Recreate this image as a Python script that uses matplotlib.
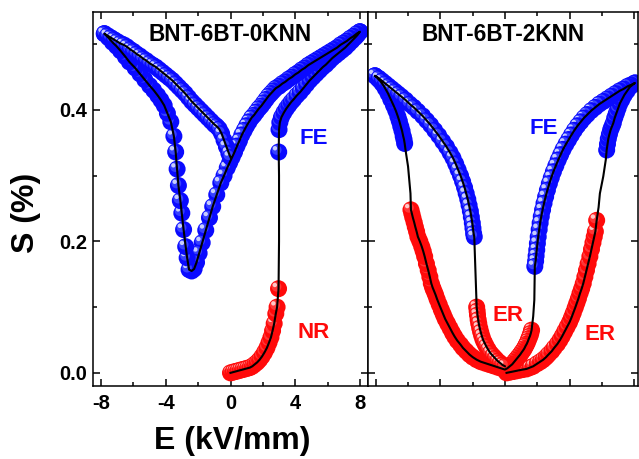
import matplotlib
matplotlib.use('Agg')
import matplotlib.pyplot as plt
from matplotlib.transforms import offset_copy
from matplotlib.ticker import MultipleLocator

plt.rcParams['font.family'] = ['Liberation Sans', 'DejaVu Sans']
plt.rcParams['font.weight'] = 'bold'

left_title = 'BNT-6BT-0KNN'
right_title = 'BNT-6BT-2KNN'
x_label = 'E (kV/mm)'
y_label = 'S (%)'
x_ticks = [-8, -4, 0, 4, 8]
y_ticks = [0.0, 0.2, 0.4]

# ---------------- left panel (0KNN), sweep order ----------------
L_nr_E = [0.00, 0.15, 0.30, 0.45, 0.60, 0.75, 0.90, 1.05, 1.20, 1.35, 1.50, 1.65,
          1.80, 1.95, 2.10, 2.25, 2.38, 2.50, 2.60, 2.70, 2.80, 2.88, 2.97]
L_nr_S = [0.000, 0.001, 0.002, 0.003, 0.004, 0.005, 0.006, 0.007, 0.008, 0.010, 0.013, 0.016,
          0.020, 0.025, 0.031, 0.038, 0.046, 0.054, 0.064, 0.075, 0.090, 0.100, 0.128]
L_jump_E = [2.97, 3.00, 3.00, 2.98]
L_jump_S = [0.128, 0.200, 0.300, 0.336]
L_fe1_E = [2.98, 3.00, 3.05, 3.15, 3.30, 3.45, 3.60, 3.75, 3.90, 4.10, 4.30, 4.50, 4.70, 4.90,
           5.10, 5.30, 5.50, 5.70, 5.90, 6.10, 6.30, 6.50, 6.70, 6.90, 7.10, 7.30, 7.50, 7.70,
           7.85, 8.00]
L_fe1_S = [0.336, 0.370, 0.381, 0.389, 0.396, 0.402, 0.407, 0.412, 0.416, 0.422, 0.427, 0.433,
           0.439, 0.445, 0.450, 0.455, 0.460, 0.465, 0.469, 0.474, 0.479, 0.483, 0.487, 0.491,
           0.495, 0.500, 0.505, 0.510, 0.514, 0.519]
L_fe2_E = [8.00, 7.80, 7.60, 7.40, 7.20, 7.00, 6.80, 6.60, 6.40, 6.20, 6.00, 5.80, 5.60, 5.40,
           5.20, 5.00, 4.80, 4.60, 4.40, 4.20, 4.00, 3.80, 3.60, 3.40, 3.20, 3.00, 2.80, 2.65,
           2.50, 2.35, 2.20, 2.05, 1.90, 1.75, 1.60, 1.45, 1.30, 1.15, 1.00, 0.85, 0.70, 0.55,
           0.40, 0.25, 0.10, -0.05, -0.20, -0.40, -0.60, -0.85, -1.10, -1.30, -1.53, -1.75,
           -1.94, -2.10, -2.25, -2.40, -2.56, -2.68, -2.77, -2.90, -3.01, -3.10, -3.22, -3.30,
           -3.39, -3.50, -3.69, -3.90, -4.10, -4.30, -4.50, -4.75, -5.00, -5.30, -5.60, -5.90,
           -6.25, -6.50, -6.80, -7.05, -7.30, -7.55, -7.80]
L_fe2_S = [0.519, 0.516, 0.512, 0.509, 0.505, 0.502, 0.499, 0.495, 0.492, 0.489, 0.486, 0.483,
           0.480, 0.477, 0.474, 0.471, 0.468, 0.464, 0.461, 0.457, 0.454, 0.450, 0.447, 0.443,
           0.440, 0.436, 0.433, 0.429, 0.425, 0.421, 0.416, 0.411, 0.406, 0.402, 0.397, 0.392,
           0.388, 0.382, 0.376, 0.369, 0.362, 0.353, 0.345, 0.336, 0.328, 0.320, 0.312, 0.300,
           0.289, 0.271, 0.253, 0.236, 0.217, 0.198, 0.182, 0.168, 0.158, 0.155, 0.157, 0.175,
           0.192, 0.218, 0.243, 0.262, 0.285, 0.310, 0.336, 0.360, 0.382, 0.395, 0.407, 0.415,
           0.422, 0.430, 0.437, 0.446, 0.455, 0.464, 0.473, 0.481, 0.490, 0.497, 0.503, 0.510,
           0.516]
L_fe3_E = [-7.80, -7.60, -7.40, -7.20, -7.00, -6.80, -6.60, -6.40, -6.20, -6.00, -5.80, -5.60,
           -5.40, -5.20, -5.00, -4.80, -4.60, -4.40, -4.20, -4.00, -3.80, -3.60, -3.40, -3.20,
           -3.00, -2.80, -2.60, -2.40, -2.20, -2.00, -1.80, -1.60, -1.40, -1.20, -1.00, -0.85,
           -0.70, -0.55, -0.40, -0.25, -0.10, 0.00]
L_fe3_S = [0.516, 0.513, 0.510, 0.507, 0.504, 0.501, 0.499, 0.496, 0.492, 0.489, 0.485, 0.482,
           0.478, 0.475, 0.471, 0.468, 0.465, 0.461, 0.457, 0.453, 0.449, 0.445, 0.440, 0.435,
           0.430, 0.425, 0.419, 0.413, 0.408, 0.403, 0.398, 0.393, 0.388, 0.383, 0.378, 0.375,
           0.371, 0.364, 0.354, 0.344, 0.334, 0.328]

# ---------------- right panel (2KNN), sweep order ----------------
R_er1_E = [0.10, 0.30, 0.50, 0.70, 0.90, 1.10, 1.34, 1.55, 1.75, 2.00, 2.20, 2.37, 2.55, 2.70,
           2.90, 3.05, 3.25, 3.41, 3.55, 3.70, 3.85, 4.00, 4.12, 4.23, 4.35, 4.45, 4.55, 4.65,
           4.75, 4.85, 4.95, 5.05, 5.15, 5.26, 5.36, 5.45, 5.53, 5.60, 5.68]
R_er1_S = [0.000, 0.001, 0.002, 0.003, 0.004, 0.005, 0.006, 0.008, 0.010, 0.014, 0.017, 0.020,
           0.024, 0.028, 0.033, 0.038, 0.044, 0.050, 0.056, 0.063, 0.070, 0.077, 0.084, 0.091,
           0.099, 0.106, 0.113, 0.121, 0.128, 0.136, 0.146, 0.156, 0.166, 0.177, 0.188, 0.198,
           0.207, 0.215, 0.232]
R_j1_E = [5.68, 5.80, 5.88, 6.09, 6.25, 6.30]
R_j1_S = [0.232, 0.252, 0.273, 0.299, 0.325, 0.339]
R_fe1_E = [6.30, 6.35, 6.40, 6.47, 6.55, 6.63, 6.71, 6.80, 6.90, 7.00, 7.12, 7.25, 7.40, 7.57,
           7.74, 7.90, 8.05]
R_fe1_S = [0.339, 0.348, 0.356, 0.363, 0.370, 0.375, 0.380, 0.388, 0.395, 0.402, 0.410, 0.416,
           0.423, 0.429, 0.435, 0.438, 0.441]
R_fe2_E = [8.05, 7.80, 7.60, 7.35, 7.10, 6.85, 6.60, 6.35, 6.10, 5.85, 5.60, 5.35, 5.10, 4.90,
           4.70, 4.50, 4.30, 4.12, 3.95, 3.78, 3.60, 3.45, 3.30, 3.15, 3.00, 2.87, 2.75, 2.63,
           2.52, 2.42, 2.33, 2.25, 2.18, 2.12, 2.06, 2.01, 1.97, 1.93, 1.90, 1.85]
R_fe2_S = [0.441, 0.438, 0.436, 0.432, 0.429, 0.425, 0.421, 0.417, 0.413, 0.409, 0.404, 0.399,
           0.393, 0.388, 0.382, 0.376, 0.369, 0.362, 0.355, 0.348, 0.340, 0.332, 0.324, 0.315,
           0.306, 0.297, 0.288, 0.278, 0.268, 0.258, 0.248, 0.238, 0.228, 0.218, 0.207, 0.197,
           0.187, 0.178, 0.170, 0.162]
R_j2_E = [1.85, 1.82, 1.75, 1.65]
R_j2_S = [0.162, 0.111, 0.086, 0.065]
R_er2_E = [1.65, 1.60, 1.55, 1.48, 1.42, 1.35, 1.28, 1.20, 1.12, 1.03, 0.95, 0.85, 0.75, 0.65,
           0.55, 0.45, 0.35, 0.25, 0.15, 0.00]
R_er2_S = [0.065, 0.060, 0.056, 0.052, 0.048, 0.044, 0.041, 0.037, 0.034, 0.031, 0.028, 0.025,
           0.022, 0.019, 0.016, 0.013, 0.011, 0.009, 0.007, 0.005]
R_er3_E = [0.00, -0.25, -0.50, -0.75, -1.00, -1.25, -1.50, -1.75, -2.00, -2.20, -2.40, -2.60,
           -2.75, -2.95, -3.11, -3.25, -3.40, -3.55, -3.70, -3.82, -3.94, -4.07, -4.20, -4.30,
           -4.40, -4.48, -4.56, -4.65, -4.75, -4.86, -4.97, -5.06, -5.15, -5.27, -5.39, -5.47,
           -5.55, -5.62, -5.70, -5.76, -5.82]
R_er3_S = [0.005, 0.007, 0.009, 0.011, 0.013, 0.015, 0.017, 0.020, 0.024, 0.028, 0.033, 0.038,
           0.043, 0.049, 0.055, 0.061, 0.068, 0.075, 0.082, 0.089, 0.096, 0.104, 0.112, 0.119,
           0.125, 0.130, 0.136, 0.146, 0.156, 0.166, 0.177, 0.185, 0.192, 0.200, 0.207, 0.215,
           0.222, 0.229, 0.236, 0.242, 0.248]
R_j3_E = [-5.82, -5.85, -6.00, -6.15, -6.21]
R_j3_S = [0.248, 0.273, 0.314, 0.338, 0.349]
R_fe3_E = [-6.21, -6.25, -6.30, -6.37, -6.45, -6.54, -6.63, -6.76, -6.90, -7.07, -7.24, -7.42,
           -7.60, -7.72, -7.85, -7.95, -8.05]
R_fe3_S = [0.349, 0.355, 0.360, 0.368, 0.375, 0.383, 0.390, 0.399, 0.407, 0.416, 0.425, 0.433,
           0.440, 0.444, 0.447, 0.450, 0.452]
R_fe4_E = [-8.05, -7.80, -7.60, -7.40, -7.20, -7.00, -6.80, -6.60, -6.40, -6.15, -5.90, -5.65,
           -5.40, -5.10, -4.85, -4.60, -4.35, -4.10, -3.85, -3.62, -3.40, -3.22, -3.05, -2.90,
           -2.75, -2.62, -2.50, -2.40, -2.30, -2.22, -2.14, -2.08, -2.02, -1.98, -1.94, -1.90]
R_fe4_S = [0.452, 0.448, 0.444, 0.440, 0.436, 0.432, 0.428, 0.424, 0.420, 0.415, 0.409, 0.404,
           0.398, 0.391, 0.384, 0.377, 0.369, 0.361, 0.352, 0.344, 0.335, 0.327, 0.318, 0.309,
           0.300, 0.291, 0.282, 0.273, 0.264, 0.255, 0.246, 0.237, 0.228, 0.220, 0.212, 0.207]
R_j4_E = [-1.90, -1.82, -1.75]
R_j4_S = [0.207, 0.150, 0.100]
R_er4_E = [-1.75, -1.72, -1.70, -1.66, -1.62, -1.56, -1.50, -1.43, -1.35, -1.25, -1.15, -1.03,
           -0.90, -0.75, -0.60, -0.45, -0.30, -0.15, 0.00]
R_er4_S = [0.100, 0.094, 0.088, 0.081, 0.075, 0.068, 0.062, 0.056, 0.050, 0.045, 0.040, 0.035,
           0.030, 0.026, 0.022, 0.018, 0.015, 0.012, 0.010]

BLUE = '#0a0aff'
RED = '#ff0a0a'
STYLE = {
    'fe': (BLUE, '#4a58ff', '#d8ddff'),
    'er': (RED, '#ff4a4a', '#ffd8d8'),
}

fig = plt.figure(figsize=(6.39, 4.59), dpi=100)
axL = fig.add_axes([93 / 639, 73 / 459, 275 / 639, 374 / 459])
axR = fig.add_axes([368 / 639, 73 / 459, 270 / 639, 374 / 459])


def spheres(ax, E, S, kind):
    base, mid, hi = STYLE[kind]
    t1 = offset_copy(ax.transData, fig=fig, x=-1.5, y=1.5, units='points')
    t2 = offset_copy(ax.transData, fig=fig, x=-2.7, y=2.7, units='points')
    for e, s in zip(E, S):
        ax.scatter([e], [s], s=150, color=base, edgecolors='none', zorder=2)
        ax.scatter([e], [s], s=50, color=mid, edgecolors='none', zorder=2, transform=t1, alpha=0.7)
        ax.scatter([e], [s], s=10, color=hi, edgecolors='none', zorder=2, transform=t2, alpha=0.9)


# left
spheres(axL, L_nr_E, L_nr_S, 'er')
spheres(axL, L_fe1_E, L_fe1_S, 'fe')
spheres(axL, L_fe2_E, L_fe2_S, 'fe')
spheres(axL, L_fe3_E, L_fe3_S, 'fe')
axL.plot(L_nr_E + L_jump_E + L_fe1_E + L_fe2_E + L_fe3_E,
         L_nr_S + L_jump_S + L_fe1_S + L_fe2_S + L_fe3_S,
         color='black', lw=1.5, zorder=3)

# right
spheres(axR, R_er1_E, R_er1_S, 'er')
spheres(axR, R_fe1_E, R_fe1_S, 'fe')
spheres(axR, R_fe2_E, R_fe2_S, 'fe')
spheres(axR, R_er2_E, R_er2_S, 'er')
spheres(axR, R_er3_E, R_er3_S, 'er')
spheres(axR, R_fe3_E, R_fe3_S, 'fe')
spheres(axR, R_fe4_E, R_fe4_S, 'fe')
spheres(axR, R_er4_E, R_er4_S, 'er')
axR.plot(R_er1_E + R_j1_E + R_fe1_E + R_fe2_E + R_j2_E + R_er2_E + R_er3_E + R_j3_E
         + R_fe3_E + R_fe4_E + R_j4_E + R_er4_E,
         R_er1_S + R_j1_S + R_fe1_S + R_fe2_S + R_j2_S + R_er2_S + R_er3_S + R_j3_S
         + R_fe3_S + R_fe4_S + R_j4_S + R_er4_S,
         color='black', lw=1.5, zorder=3)

for ax in (axL, axR):
    ax.set_ylim(-0.02, 0.549)
    ax.set_yticks(y_ticks)
    ax.yaxis.set_minor_locator(MultipleLocator(0.1))
    ax.set_xticks(x_ticks)
    ax.xaxis.set_minor_locator(MultipleLocator(2))
    ax.tick_params(which='both', direction='in', top=True, right=True, width=1.1)
    ax.tick_params(which='major', length=5)
    ax.tick_params(which='minor', length=3)
    for sp in ax.spines.values():
        sp.set_linewidth(1.1)

axL.set_xlim(-8.5, 8.5)
axR.set_xlim(-8.48, 8.24)
axL.set_yticklabels(['0.0', '0.2', '0.4'])
axL.set_xticklabels(['-8', '-4', '0', '4', '8'])
axL.tick_params(axis='x', labelsize=14.5, pad=6)
axL.tick_params(axis='y', labelsize=14.5, pad=4)
axR.tick_params(labelleft=False, labelbottom=False)

axL.text(0.5, 0.941, left_title, transform=axL.transAxes, ha='center', va='center',
         fontsize=16.3, fontweight='bold')
axR.text(0.5, 0.941, right_title, transform=axR.transAxes, ha='center', va='center',
         fontsize=16.3, fontweight='bold')

axL.text(5.14, 0.356, 'FE', color=BLUE, fontsize=16, fontweight='bold', ha='center', va='center')
axL.text(5.14, 0.062, 'NR', color=RED, fontsize=16, fontweight='bold', ha='center', va='center')
axR.text(2.43, 0.372, 'FE', color=BLUE, fontsize=16, fontweight='bold', ha='center', va='center')
axR.text(0.2, 0.088, 'ER', color=RED, fontsize=16, fontweight='bold', ha='center', va='center')
axR.text(5.91, 0.059, 'ER', color=RED, fontsize=16, fontweight='bold', ha='center', va='center')

fig.text(232 / 639, 1 - 441 / 459, x_label, ha='center', va='center', fontsize=23, fontweight='bold')
fig.text(26 / 639, 1 - 213 / 459, y_label, ha='center', va='center', rotation=90,
         fontsize=23, fontweight='bold')

fig.savefig('out.png', dpi=100)
